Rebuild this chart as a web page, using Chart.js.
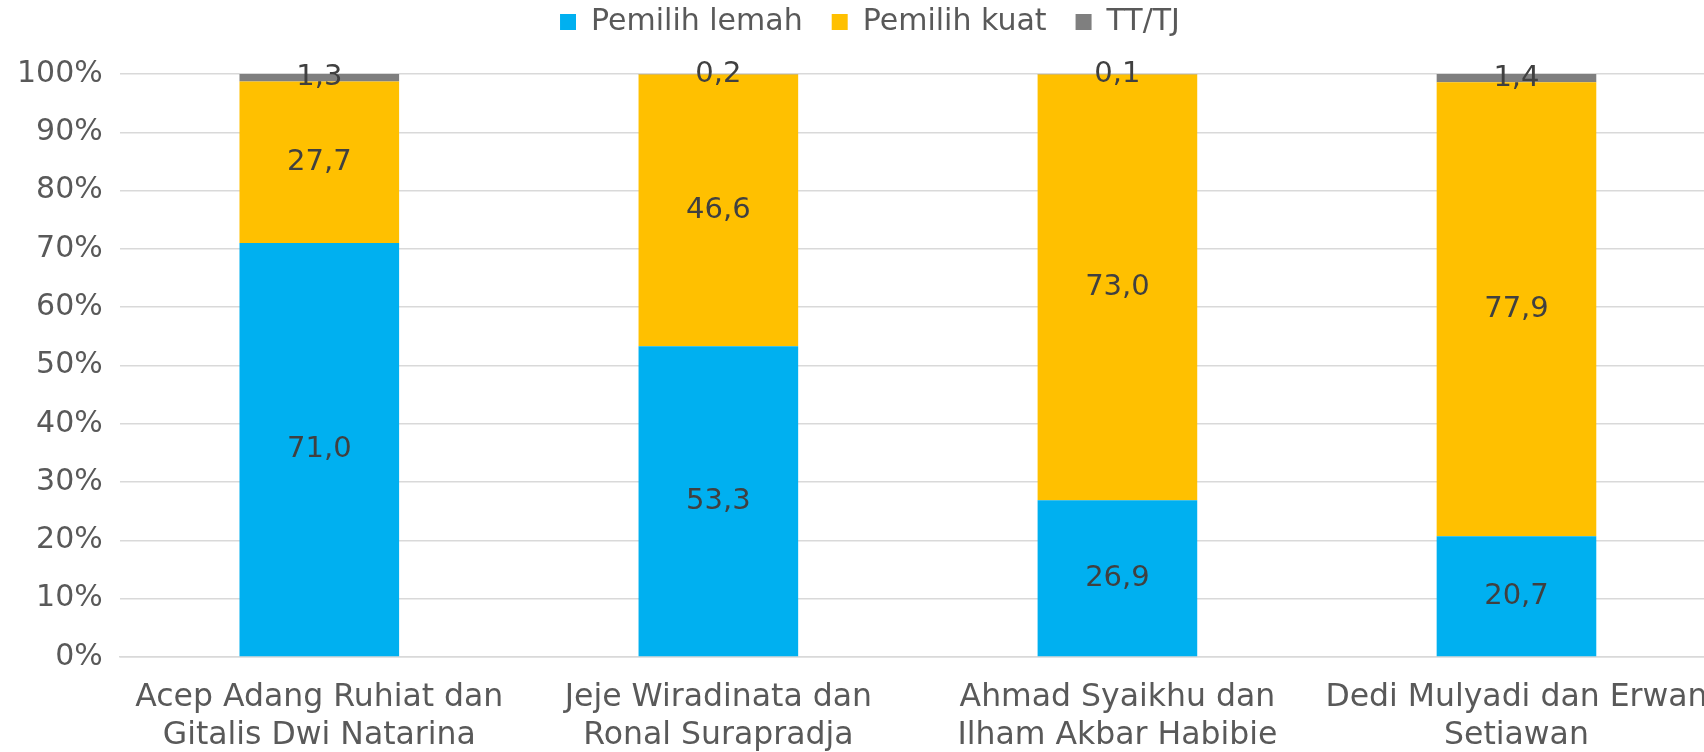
<!DOCTYPE html>
<html>
<head>
<meta charset="utf-8">
<script src="https://cdn.jsdelivr.net/npm/chart.js@4"></script>
<style>
  html, body { margin: 0; padding: 0; background: #fff; overflow: hidden; }
  #wrap { position: relative; width: 1716px; height: 752px; }
</style>
</head>
<body>
<div id="wrap"><canvas id="c"></canvas></div>
<script>
const categories = [
  ["Acep Adang Ruhiat dan", "Gitalis Dwi Natarina"],
  ["Jeje Wiradinata dan", "Ronal Surapradja"],
  ["Ahmad Syaikhu dan", "Ilham Akbar Habibie"],
  ["Dedi Mulyadi dan Erwan", "Setiawan"]
];
const seriesNames = ["Pemilih lemah", "Pemilih kuat", "TT/TJ"];
const pemilihLemah = [71.0, 53.3, 26.9, 20.7];
const pemilihKuat = [27.7, 46.6, 73.0, 77.9];
const ttTj = [1.3, 0.2, 0.1, 1.4];
const yTicks = [0, 10, 20, 30, 40, 50, 60, 70, 80, 90, 100];

const FONT = "'DejaVu Sans', sans-serif";
const LEGEND_PAD = 29;
const LEGEND_HEIGHT = 74;
const LEGEND_ROW_TOP = 7;

const valueLabels = {
  id: 'valueLabels',
  afterDatasetsDraw(chart) {
    const ctx = chart.ctx;
    ctx.save();
    ctx.font = "29px " + FONT;
    ctx.fillStyle = '#404040';
    ctx.textAlign = 'center';
    ctx.textBaseline = 'middle';
    chart.data.datasets.forEach((ds, di) => {
      const meta = chart.getDatasetMeta(di);
      if (meta.hidden) return;
      meta.data.forEach((el, i) => {
        const v = ds.data[i];
        const p = el.getProps(['x', 'y', 'base'], true);
        const y = (p.y + p.base) / 2;
        ctx.fillText(v.toFixed(1).replace('.', ','), p.x, y);
      });
    });
    ctx.restore();
  }
};

const legendLayout = {
  id: 'legendLayout',
  beforeLayout(chart) {
    const lg = chart.legend;
    if (lg && !lg._patchedFit) {
      const origFit = lg.fit;
      lg.fit = function () {
        origFit.call(this);
        this.height = LEGEND_HEIGHT;
      };
      lg._patchedFit = true;
    }
  },
  afterLayout(chart) {
    const lg = chart.legend;
    if (lg) {
      lg.top = LEGEND_ROW_TOP - LEGEND_PAD;
      lg.left = 24;
      lg.right = 1716;
    }
  }
};

new Chart(document.getElementById('c'), {
  type: 'bar',
  data: {
    labels: categories,
    datasets: [
      { label: seriesNames[0], data: pemilihLemah, backgroundColor: '#00B0F0' },
      { label: seriesNames[1], data: pemilihKuat, backgroundColor: '#FFC000' },
      { label: seriesNames[2], data: ttTj, backgroundColor: '#7F7F7F' }
    ]
  },
  options: {
    responsive: true,
    maintainAspectRatio: false,
    animation: false,
    datasets: { bar: { barPercentage: 0.4, categoryPercentage: 1.0 } },
    layout: { padding: 0 },
    plugins: {
      legend: {
        position: 'top',
        labels: {
          font: { family: FONT, size: 30 },
          color: '#595959',
          boxWidth: 16,
          boxHeight: 16,
          padding: LEGEND_PAD
        }
      },
      tooltip: { enabled: false }
    },
    scales: {
      x: {
        stacked: true,
        grid: { display: false, drawTicks: false },
        border: { display: true, color: '#d9d9d9', width: 1.5 },
        afterFit(scale) { scale.paddingLeft = 0; scale.paddingRight = 0; scale.height = 95; },
        ticks: {
          font: { family: FONT, size: 31.5 },
          color: '#595959',
          padding: 22,
          maxRotation: 0,
          autoSkip: false
        }
      },
      y: {
        stacked: true,
        min: 0,
        max: 100,
        afterBuildTicks(scale) { scale.ticks = yTicks.map(v => ({ value: v })); },
        grid: { color: '#d9d9d9', lineWidth: 1.5, drawTicks: false },
        border: { display: false },
        ticks: {
          font: { family: FONT, size: 30 },
          color: '#595959',
          padding: 17,
          callback: v => v + '%'
        }
      }
    }
  },
  plugins: [valueLabels, legendLayout]
});
</script>
</body>
</html>
